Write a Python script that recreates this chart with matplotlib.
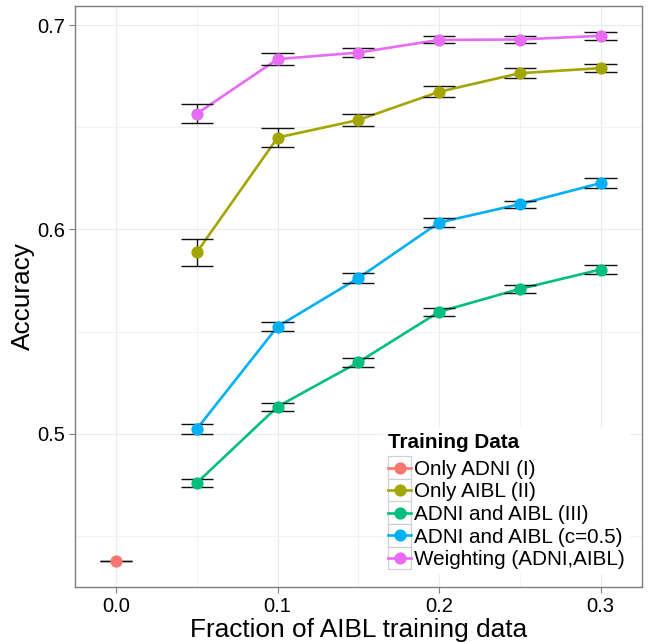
import matplotlib
matplotlib.use("Agg")
import matplotlib.pyplot as plt
from matplotlib.lines import Line2D
from matplotlib.patches import Rectangle
from matplotlib.legend_handler import HandlerLine2D
import numpy as np

plt.rcParams['font.family'] = ['Liberation Sans', 'DejaVu Sans']

# ---- data ----
series_names = ["Only ADNI (I)", "Only AIBL (II)", "ADNI and AIBL (III)",
                "ADNI and AIBL (c=0.5)", "Weighting (ADNI,AIBL)"]
colors = ["#F8766D", "#A3A500", "#00BF7D", "#00B0F6", "#E76BF3"]

x_adni = [0.0]
y_adni = [0.4379]
e_adni = [0.0]

x_frac = [0.05, 0.10, 0.15, 0.20, 0.25, 0.30]
y_aibl = [0.5889, 0.6450, 0.6536, 0.6674, 0.6765, 0.6790]
e_aibl = [0.0066, 0.0047, 0.0030, 0.0027, 0.0024, 0.0020]
y_both = [0.4760, 0.5133, 0.5350, 0.5597, 0.5709, 0.5804]
e_both = [0.0020, 0.0020, 0.0022, 0.0020, 0.0018, 0.0020]
y_c05 = [0.5024, 0.5525, 0.5762, 0.6034, 0.6124, 0.6227]
e_c05 = [0.0023, 0.0023, 0.0024, 0.0020, 0.0017, 0.0023]
y_wgt = [0.6567, 0.6834, 0.6866, 0.6928, 0.6930, 0.6948]
e_wgt = [0.0045, 0.0030, 0.0022, 0.0017, 0.0017, 0.0020]

x_ticks = [0.0, 0.1, 0.2, 0.3]
x_tick_labels = ["0.0", "0.1", "0.2", "0.3"]
y_ticks = [0.5, 0.6, 0.7]
y_tick_labels = ["0.5", "0.6", "0.7"]

series = [
    (x_adni, y_adni, e_adni),
    (x_frac, y_aibl, e_aibl),
    (x_frac, y_both, e_both),
    (x_frac, y_c05, e_c05),
    (x_frac, y_wgt, e_wgt),
]

fig = plt.figure(figsize=(6.52, 6.42), dpi=100)
ax = fig.add_axes([75/652, 1-587/642, (642-75)/652, (587-6)/642])

cap_half = 0.01
for (xs, ys, es), col in zip(series, colors):
    xs = np.asarray(xs); ys = np.asarray(ys); es = np.asarray(es)
    ax.plot(xs, ys, color=col, lw=1.9, zorder=3, solid_capstyle='butt')
    ax.vlines(xs, ys - es, ys + es, color="#111111", lw=1.0, zorder=4)
    ax.hlines(ys - es, xs - cap_half, xs + cap_half, color="#111111", lw=1.0, zorder=4)
    ax.hlines(ys + es, xs - cap_half, xs + cap_half, color="#111111", lw=1.0, zorder=4)
    ax.plot(xs, ys, 'o', color=col, ms=8.8, mew=0, zorder=5)

ax.set_xlim(-0.0255, 0.3257)
ax.set_ylim(0.4250, 0.7094)
ax.set_xticks(x_ticks)
ax.set_xticklabels(x_tick_labels)
ax.set_yticks(y_ticks)
ax.set_yticklabels(y_tick_labels)
ax.set_xticks([0.05, 0.15, 0.25], minor=True)
ax.set_yticks([0.45, 0.55, 0.65], minor=True)
ax.tick_params(which='major', direction='out', length=4, width=0.8, color='#7f7f7f',
               labelsize=14.5, labelcolor='black', pad=3)
ax.tick_params(which='minor', length=0)
ax.grid(which='major', color='#ebebeb', lw=0.8, zorder=0)
ax.grid(which='minor', color='#f2f2f2', lw=0.8, zorder=0)
ax.set_axisbelow(True)
for sp in ax.spines.values():
    sp.set_color('#7f7f7f')
    sp.set_linewidth(1.0)

ax.set_xlabel("Fraction of AIBL training data", fontsize=18.9, labelpad=2)
ax.set_ylabel("Accuracy", fontsize=18.9, labelpad=2)


class KeyHandler(HandlerLine2D):
    def create_artists(self, legend, orig_handle, xdescent, ydescent, width, height, fontsize, trans):
        arts = super().create_artists(legend, orig_handle, xdescent, ydescent, width, height, fontsize, trans)
        pad = 2.9
        rect = Rectangle((-xdescent, -ydescent - pad), width, height + 2 * pad,
                         facecolor='white', edgecolor='#d0d0d0', lw=0.9, transform=trans)
        return [rect] + list(arts)


handles = [Line2D([], [], color=c, lw=1.9, marker='o', ms=8.8, mew=0) for c in colors]
hmap = {h: KeyHandler() for h in handles}
leg = ax.legend(handles, series_names, loc='lower right', bbox_to_anchor=(0.979, 0.022),
                fontsize=14.9, title="Training Data",
                title_fontproperties={'weight': 'bold', 'size': 14.9},
                handlelength=1.1, handletextpad=0.15, labelspacing=0.17, borderpad=0.25,
                frameon=True, fancybox=False, edgecolor='none', facecolor='white', framealpha=1,
                handler_map=hmap, alignment='left', borderaxespad=0.0)
leg.set_zorder(10)
# slightly more room between title and entries, like the reference
leg._legend_box.sep = 6

fig.savefig("out.png", dpi=100)
